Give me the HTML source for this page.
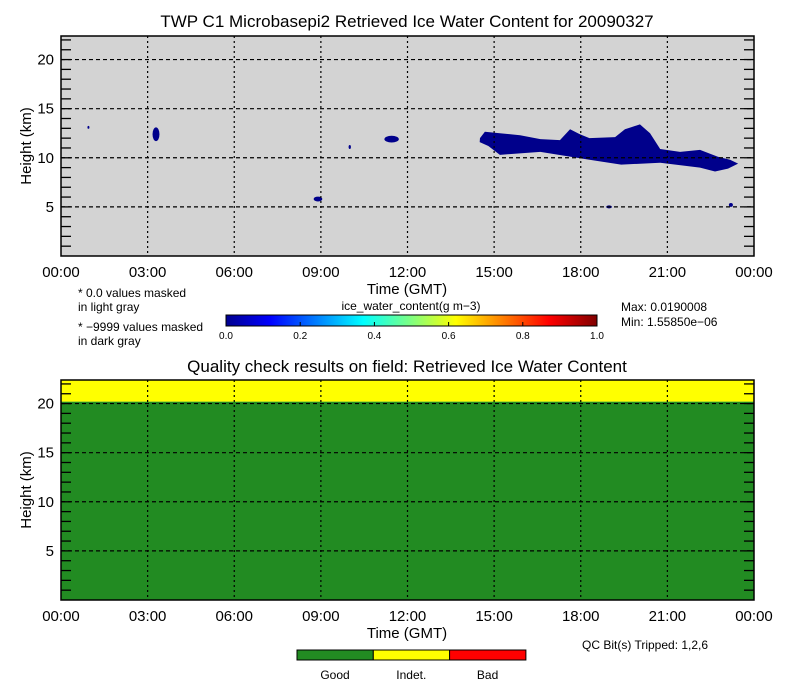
<!DOCTYPE html>
<html><head><meta charset="utf-8"><style>
body{margin:0;background:#fff;width:786px;height:688px;overflow:hidden;font-family:"Liberation Sans",sans-serif}
svg text{font-family:"Liberation Sans",sans-serif;fill:#000}
</style></head><body>
<svg id="c" width="786" height="688" xmlns="http://www.w3.org/2000/svg">
<defs><linearGradient id="jet" x1="0" x2="1" y1="0" y2="0">
<stop offset="0" stop-color="#00008f"/><stop offset="0.12" stop-color="#0000ff"/><stop offset="0.37" stop-color="#00ffff"/><stop offset="0.5" stop-color="#80ff80"/><stop offset="0.62" stop-color="#ffff00"/><stop offset="0.87" stop-color="#ff0000"/><stop offset="1" stop-color="#800000"/></linearGradient></defs>
</svg>
<script>
const xTickLabels=["00:00","03:00","06:00","09:00","12:00","15:00","18:00","21:00","00:00"];
const yTicks=[5,10,15,20];
const mainCloudHours=[14.51,14.68,15.2,15.9,16.6,17.28,17.63,17.97,18.3,19.19,19.53,20.05,20.4,20.75,21.44,22.13,22.75,23.17,23.45,23.1,22.65,22.13,20.75,19.4,18.3,16.6,15.2,14.8,14.5];
const mainCloudKm=[12.0,12.65,12.5,12.3,11.9,11.8,12.9,12.4,12.0,12.1,12.9,13.4,12.5,10.9,10.6,10.8,10.1,9.8,9.4,8.9,8.6,9.0,9.5,9.3,9.8,10.6,10.3,11.2,11.6];
const blobHours=[3.29,11.45,10.0,8.9,18.98,23.2,0.95];
const blobKm=[12.4,11.9,11.1,5.8,5.0,5.2,13.1];
const blobWidthH=[0.12,0.25,0.04,0.15,0.1,0.07,0.03];
const blobHeightKm=[0.7,0.35,0.2,0.25,0.15,0.2,0.15];
const qcCategories=["Good","Indet.","Bad"];
const qcColors=["#228b22","#ffff00","#ff0000"];
const qcIndetAboveKm=20.2;
const cbTicks=["0.0","0.2","0.4","0.6","0.8","1.0"];

const svg=document.getElementById('c');const NS="http://www.w3.org/2000/svg";
function el(t,a,p){const e=document.createElementNS(NS,t);for(const k in a)e.setAttribute(k,a[k]);(p||svg).appendChild(e);return e;}
function txt(x,y,s,size,anchor,p){const e=el('text',{x:x,y:y,'font-size':size,'text-anchor':anchor||'middle'},p);e.textContent=s;return e;}
const X0=61,X1=754,YMAX=22.4;
function xs(h){return X0+(X1-X0)*h/24;}
function panel(top,bottom,name){
  const g=el('g',{});
  
  
  const ys=k=>bottom-(bottom-top)*k/YMAX;
  return {g,ys,top,bottom};
}
function axes(P){
  const {g,ys,top,bottom}=P;
  for(let i=1;i<8;i++){const l=el('line',{x1:xs(i*3),x2:xs(i*3),y1:top,y2:bottom,stroke:'#000','stroke-dasharray':'2,3','stroke-width':1.2},g);}
  yTicks.forEach(k=>{const l=el('line',{x1:X0,x2:X1,y1:ys(k),y2:ys(k),stroke:'#000','stroke-dasharray':'4,3','stroke-width':1.2},g);
    const t=txt(X0-7,ys(k)+5,String(k),15,'end',g);});
  for(let k=1;k<=22;k++){el('line',{x1:X0,x2:X0+10,y1:ys(k),y2:ys(k),stroke:'#000','stroke-width':1.3},g);el('line',{x1:X1-10,x2:X1,y1:ys(k),y2:ys(k),stroke:'#000','stroke-width':1.3},g);}
  el('rect',{x:X0,y:top,width:X1-X0,height:bottom-top,fill:'none',stroke:'#000','stroke-width':1.5},g);
  xTickLabels.forEach((s,i)=>{const t=txt(xs(i*3),bottom+21,s,15,'middle',g);});
  const xt=txt(407,bottom+38,'Time (GMT)',15,'middle',g);
  const yt=txt(0,0,'Height (km)',15,'middle',g);yt.setAttribute('transform',`translate(31,${(top+bottom)/2}) rotate(-90)`);
}
const T=panel(36,256,'ice-water-content-panel');
el('rect',{x:X0,y:36,width:X1-X0,height:220,fill:'#d3d3d3'},T.g);
const poly=el('polygon',{points:mainCloudHours.map((h,i)=>xs(h)+','+T.ys(mainCloudKm[i])).join(' '),fill:'#00008b'},T.g);

blobHours.forEach((h,i)=>{const e=el('ellipse',{cx:xs(h),cy:T.ys(blobKm[i]),rx:Math.max(1,(xs(blobWidthH[i])-X0)),ry:Math.max(1,blobHeightKm[i]*9.8),fill:'#00008b'},T.g);});
axes(T);
const t1=txt(407,27,'TWP C1 Microbasepi2 Retrieved Ice Water Content for 20090327',17);
const notes=[["* 0.0 values masked",297],["  in light gray",311],["* \u22129999 values masked",331],["  in dark gray",345]];
notes.forEach(n=>{const t=txt(78,n[1],n[0],12,'start');t.setAttribute('xml:space','preserve');});
const cbt=txt(411,310,'ice_water_content(g m\u22123)',12);
const cb=el('rect',{x:226,y:315,width:371,height:11,fill:'url(#jet)',stroke:'#000','stroke-width':1});
cbTicks.forEach((s,i)=>{const x=226+371*i/5;el('line',{x1:x,x2:x,y1:322,y2:326,stroke:'#000'});const t=txt(x,339,s,10);});
const mx=txt(621,311,'Max: 0.0190008',12,'start');
const mn=txt(621,326,'Min: 1.55850e\u221206',12,'start');
const B=panel(380,600,'qc-panel');
const gr=el('rect',{x:X0,y:B.ys(qcIndetAboveKm),width:X1-X0,height:600-B.ys(qcIndetAboveKm),fill:qcColors[0]},B.g);
const yr=el('rect',{x:X0,y:380,width:X1-X0,height:B.ys(qcIndetAboveKm)-380,fill:qcColors[1]},B.g);
axes(B);
const t2=txt(407,372,'Quality check results on field: Retrieved Ice Water Content',17);
const qb=txt(582,649,'QC Bit(s) Tripped: 1,2,6',12,'start');
qcCategories.forEach((c,i)=>{const x=297+76.3*i;const r=el('rect',{x:x,y:650,width:76.3,height:10,fill:qcColors[i],stroke:'#000','stroke-width':1});
  const t=txt(x+38,679,c,12);});
</script>
</body></html>
